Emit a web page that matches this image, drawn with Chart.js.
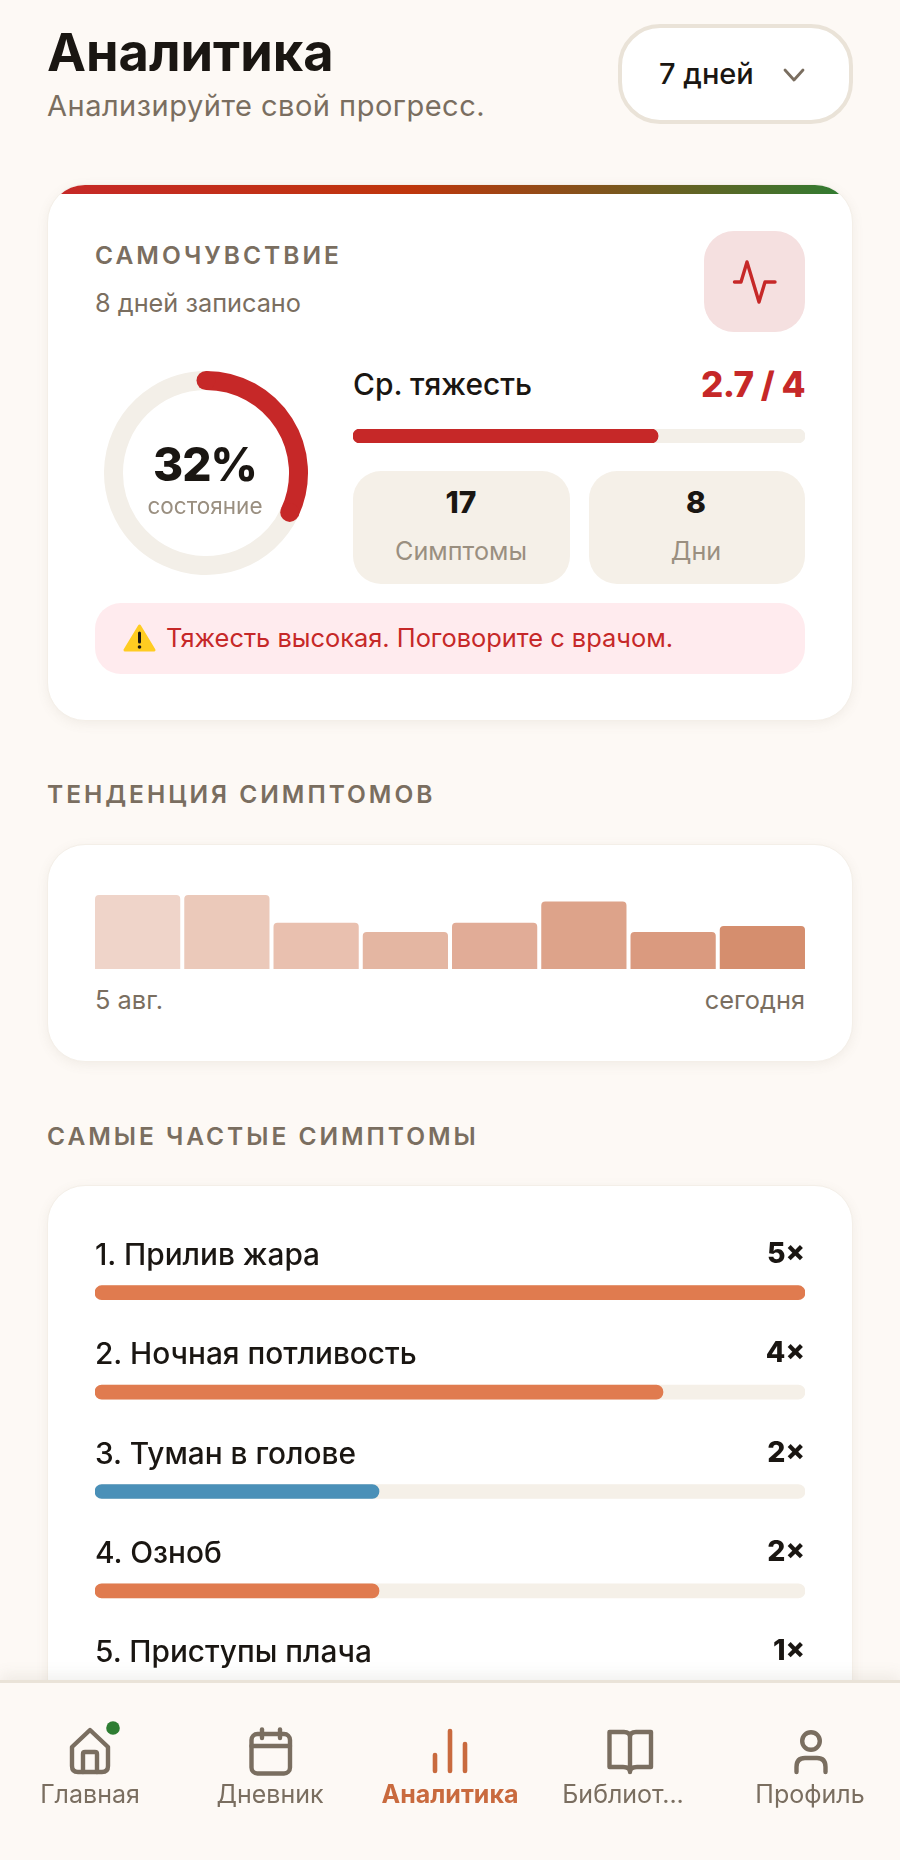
<!DOCTYPE html>
<html lang="ru">
<head>
<meta charset="utf-8">
<title>Аналитика</title>
<script src="https://cdn.jsdelivr.net/npm/chart.js@4"></script>
<style>
html, body { margin: 0; padding: 0; background: #FDF9F5; }
body { position: relative; width: 900px; height: 1860px; overflow: hidden; font-family: Inter, "Noto Sans", sans-serif; color: #1A1612; }
.t { position: absolute; white-space: nowrap; line-height: 1; }
.r { text-align: right; }
.c { text-align: center; transform: translateX(-50%); }
.box { position: absolute; box-sizing: border-box; }
.card { position: absolute; left: 47px; width: 806px; box-sizing: border-box; background: #fff; border-radius: 38px; border: 1px solid #F4EFE8; box-shadow: 0 3px 12px rgba(122,106,88,.09); overflow: hidden; }
.section { left: 47px; font-size: 24.5px; font-weight: 600; letter-spacing: 2.98px; color: #7A6E60; }
.muted { color: #9A8F80; }
canvas { position: absolute; display: block; }
#nav { position: absolute; left: 0; top: 1680px; width: 900px; height: 180px; background: #FDF9F5; border-top: 3px solid #EAE3D8; box-sizing: border-box; box-shadow: 0 -5px 14px rgba(122,106,88,.1); z-index: 5; }
.navlabel { font-size: 25px; color: #7A6E60; z-index: 6; }
svg { position: absolute; overflow: visible; z-index: 6; }
</style>
</head>
<body>

<div class="t" style="left:47px;top:26px;font-size:52.3px;font-weight:700;">Аналитика</div>
<div class="t" style="left:47px;top:91px;font-size:29px;color:#7A6E60;letter-spacing:.5px;">Анализируйте свой прогресс.</div>

<div class="box" style="left:618px;top:24px;width:235px;height:100px;background:#fff;border:4px solid #EAE3D8;border-radius:42px;"></div>
<div class="t" style="left:659px;top:59px;font-size:29px;font-weight:500;">7 дней</div>
<svg style="left:783px;top:68px" width="22" height="14"><path d="M2 2 L11 12 L20 2" fill="none" stroke="#7A6E60" stroke-width="2.8" stroke-linecap="round" stroke-linejoin="round"/></svg>

<!-- карточка самочувствия -->
<div class="card" style="top:184px;height:537px;">
  <div style="height:9px;background:linear-gradient(90deg,#C62828 0%,#BF360C 45%,#2E7D32 100%);"></div>
</div>
<div class="t" style="left:95px;top:243px;font-size:24.5px;font-weight:600;letter-spacing:3.05px;color:#7A6E60;">САМОЧУВСТВИЕ</div>
<div class="t" style="left:95px;top:290px;font-size:25.3px;color:#7A6E60;">8 дней записано</div>
<div class="box" style="left:704px;top:231px;width:101px;height:101px;background:#F5E0E0;border-radius:30px;"></div>
<svg style="left:733px;top:260px" width="44" height="44"><path d="M1.5 22 H8 L14 2 L26 42 L32 22 H42" fill="none" stroke="#C62828" stroke-width="3.4" stroke-linecap="round" stroke-linejoin="round"/></svg>

<canvas id="gauge" width="220" height="220" style="left:96px;top:363px;width:220px;height:220px;"></canvas>
<div class="t c" style="left:205px;top:441px;font-size:46px;font-weight:800;letter-spacing:-1px;" id="gaugeText"></div>
<div class="t c muted" style="left:205px;top:495px;font-size:22.5px;">состояние</div>

<div class="t" style="left:353px;top:370px;font-size:29.9px;font-weight:500;">Ср. тяжесть</div>
<div class="t r" style="right:95px;top:367px;font-size:35px;font-weight:800;letter-spacing:-.5px;color:#C62828;" id="sevText"></div>
<canvas id="severity" width="452" height="14" style="left:353px;top:429px;width:452px;height:14px;"></canvas>

<div class="box" style="left:353px;top:471px;width:217px;height:113px;background:#F5F0E8;border-radius:28px;"></div>
<div class="box" style="left:589px;top:471px;width:216px;height:113px;background:#F5F0E8;border-radius:28px;"></div>
<div class="t c" style="left:461px;top:487px;font-size:30px;font-weight:800;">17</div>
<div class="t c muted" style="left:461px;top:539px;font-size:25.2px;">Симптомы</div>
<div class="t c" style="left:696px;top:487px;font-size:30px;font-weight:800;">8</div>
<div class="t c muted" style="left:696px;top:539px;font-size:25.2px;">Дни</div>

<div class="box" style="left:95px;top:603px;width:710px;height:71px;background:#FFEBEE;border-radius:26px;"></div>
<svg style="left:123px;top:624px" width="33" height="28">
  <path d="M16.5 2 L31 26 H2 Z" fill="#FFCC21" stroke="#FFCC21" stroke-width="3" stroke-linejoin="round"/>
  <path d="M16.5 9 V18" stroke="#1A1612" stroke-width="3" stroke-linecap="round"/>
  <circle cx="16.5" cy="23" r="1.8" fill="#1A1612"/>
</svg>
<div class="t" style="left:166px;top:625px;font-size:25.4px;font-weight:400;color:#C62828;">Тяжесть высокая. Поговорите с врачом.</div>

<!-- тенденция -->
<div class="t section" style="top:782px;">ТЕНДЕНЦИЯ СИМПТОМОВ</div>
<div class="card" style="top:844px;height:218px;"></div>
<canvas id="trend" width="714" height="74" style="left:93px;top:895px;width:714px;height:74px;"></canvas>
<div class="t" style="left:95px;top:987px;font-size:25.4px;color:#7A6E60;" id="trendFirst"></div>
<div class="t r" style="right:95px;top:987px;font-size:25.4px;color:#7A6E60;" id="trendLast"></div>

<!-- частые симптомы -->
<div class="t section" style="top:1124px;">САМЫЕ ЧАСТЫЕ СИМПТОМЫ</div>
<div class="card" style="top:1185px;height:720px;"></div>
<canvas id="symptoms" width="710" height="497" style="left:95px;top:1242.5px;width:710px;height:497px;"></canvas>
<div id="symptomLabels"></div>

<!-- нижнее меню -->
<div id="nav"></div>
<svg style="left:69px;top:1728px" width="44" height="46" fill="none" stroke="#7A6E60" stroke-width="4.4" stroke-linecap="round" stroke-linejoin="round">
  <path d="M3 19 L21 2 L39 19 V38 Q39 44 33 44 H9 Q3 44 3 38 Z"/>
  <path d="M14 44 V26 Q14 24 16 24 H26 Q28 24 28 26 V44"/>
</svg>
<svg style="left:0;top:0" width="1" height="1"><circle cx="113" cy="1728" r="6.8" fill="#2E7D32"/></svg>
<svg style="left:249px;top:1728px" width="44" height="48" fill="none" stroke="#7A6E60" stroke-width="4.4" stroke-linecap="round" stroke-linejoin="round">
  <rect x="2.5" y="6" width="38.5" height="39.5" rx="6"/>
  <path d="M2.5 18 H41"/><path d="M13 1.5 V10"/><path d="M31 1.5 V10"/>
</svg>
<svg style="left:432px;top:1728px" width="38" height="46" fill="none" stroke="#C96A3E" stroke-width="4.6" stroke-linecap="round">
  <path d="M3 27 V43"/><path d="M18 3 V43"/><path d="M33 16 V43"/>
</svg>
<svg style="left:607px;top:1729px" width="48" height="46" fill="none" stroke="#7A6E60" stroke-width="4.4" stroke-linecap="round" stroke-linejoin="round">
  <path d="M23 8 Q23 3 17 3 H2.5 V38 H16 Q23 38 23 43 Q23 38 30 38 H44 V3 H29 Q23 3 23 8 V43"/>
</svg>
<svg style="left:794px;top:1730px" width="34" height="44" fill="none" stroke="#7A6E60" stroke-width="4.4" stroke-linecap="round">
  <circle cx="17" cy="11" r="8.8"/>
  <path d="M2.5 42 V37 Q2.5 28 11 28 H23 Q31.5 28 31.5 37 V42"/>
</svg>
<div id="navLabels"></div>

<script>
// данные с картинки
const gaugeValue = 32;
const severityValue = 2.7;
const severityMax = 4;
const trendDays = ['5 авг.', '6 авг.', '7 авг.', '8 авг.', '9 авг.', '10 авг.', '11 авг.', 'сегодня'];
const trendValues = [4, 4, 2.5, 2, 2.5, 3.65, 2, 2.33];
const symptomNames = ['Прилив жара', 'Ночная потливость', 'Туман в голове', 'Озноб', 'Приступы плача'];
const symptomCounts = [5, 4, 2, 2, 1];
const symptomMax = 5;
const navItems = ['Главная', 'Дневник', 'Аналитика', 'Библиот...', 'Профиль'];

const trendColors = ['#EFD4C9', '#EBC9BA', '#E9C0AF', '#E4B6A2', '#E1AC97', '#DDA38A', '#DA9A7F', '#D58E6E'];
const symptomColors = ['#E07B4F', '#E07B4F', '#4A90B8', '#E07B4F', '#E07B4F'];
const navCenters = [90, 270, 450, 623, 810];

Chart.defaults.animation = false;
Chart.defaults.responsive = false;
Chart.defaults.plugins.legend.display = false;
Chart.defaults.plugins.tooltip.enabled = false;

document.getElementById('gaugeText').textContent = gaugeValue + '%';
document.getElementById('sevText').textContent = severityValue + ' / ' + severityMax;
document.getElementById('trendFirst').textContent = trendDays[0];
document.getElementById('trendLast').textContent = trendDays[trendDays.length - 1];

// круглые концы дуги, положение берём у самого элемента
const roundCaps = {
    id: 'roundCaps',
    afterDatasetsDraw(chart) {
        const arc = chart.getDatasetMeta(0).data[0];
        const r = (arc.innerRadius + arc.outerRadius) / 2;
        const cap = (arc.outerRadius - arc.innerRadius) / 2;
        chart.ctx.fillStyle = '#C62828';
        [arc.startAngle, arc.endAngle].forEach((a) => {
            chart.ctx.beginPath();
            chart.ctx.arc(arc.x + Math.cos(a) * r, arc.y + Math.sin(a) * r, cap, 0, Math.PI * 2);
            chart.ctx.fill();
        });
    }
};

new Chart(document.getElementById('gauge'), {
    type: 'doughnut',
    data: {
        datasets: [{
            data: [gaugeValue, 100 - gaugeValue],
            backgroundColor: ['#C62828', '#F3EFE8'],
            borderWidth: 0,
        }],
    },
    plugins: [roundCaps],
    options: {
        cutout: '81.4%',
        layout: { padding: 8 },
    },
});

const hiddenAxes = (max) => ({
    x: { display: false, min: 0, max: max },
    y: { display: false },
});

new Chart(document.getElementById('severity'), {
    type: 'bar',
    data: {
        labels: ['Ср. тяжесть'],
        datasets: [
            { data: [severityValue], backgroundColor: '#C62828', grouped: false, order: 1, borderRadius: 7, borderSkipped: false, categoryPercentage: 1, barPercentage: 1 },
            { data: [severityMax], backgroundColor: '#F3EFE8', grouped: false, order: 2, borderRadius: 7, borderSkipped: false, categoryPercentage: 1, barPercentage: 1 },
        ],
    },
    options: { indexAxis: 'y', scales: hiddenAxes(severityMax) },
});

new Chart(document.getElementById('trend'), {
    type: 'bar',
    data: {
        labels: trendDays,
        datasets: [{
            data: trendValues,
            backgroundColor: trendColors,
            categoryPercentage: 1,
            barPercentage: 0.955,
            borderRadius: { topLeft: 4, topRight: 4, bottomLeft: 0, bottomRight: 0 },
            borderSkipped: false,
        }],
    },
    options: {
        scales: {
            x: { display: false },
            y: { display: false, min: 0, max: 4 },
        },
    },
});

new Chart(document.getElementById('symptoms'), {
    type: 'bar',
    data: {
        labels: symptomNames,
        datasets: [
            { data: symptomCounts, backgroundColor: symptomColors, grouped: false, order: 1, barThickness: 14, borderRadius: 7, borderSkipped: false },
            { data: symptomNames.map(() => symptomMax), backgroundColor: '#F5F0E8', grouped: false, order: 2, barThickness: 14, borderRadius: 7, borderSkipped: false },
        ],
    },
    options: { indexAxis: 'y', scales: hiddenAxes(symptomMax) },
});

// подписи строк
const labelsBox = document.getElementById('symptomLabels');
symptomNames.forEach((name, i) => {
    const top = 1240 + i * 99.33;
    labelsBox.insertAdjacentHTML('beforeend',
        `<div class="t" style="left:95px;top:${top}px;font-size:29.8px;font-weight:500;">${i + 1}. ${name}</div>` +
        `<div class="t r" style="right:95px;top:${top - 1}px;font-size:28.5px;font-weight:800;">${symptomCounts[i]}×</div>`);
});

const navBox = document.getElementById('navLabels');
navItems.forEach((name, i) => {
    const active = name === 'Аналитика';
    navBox.insertAdjacentHTML('beforeend',
        `<div class="t c navlabel" style="left:${navCenters[i]}px;top:1782px;${active ? 'font-weight:700;color:#C96A3E;' : ''}">${name}</div>`);
});
</script>
</body>
</html>
